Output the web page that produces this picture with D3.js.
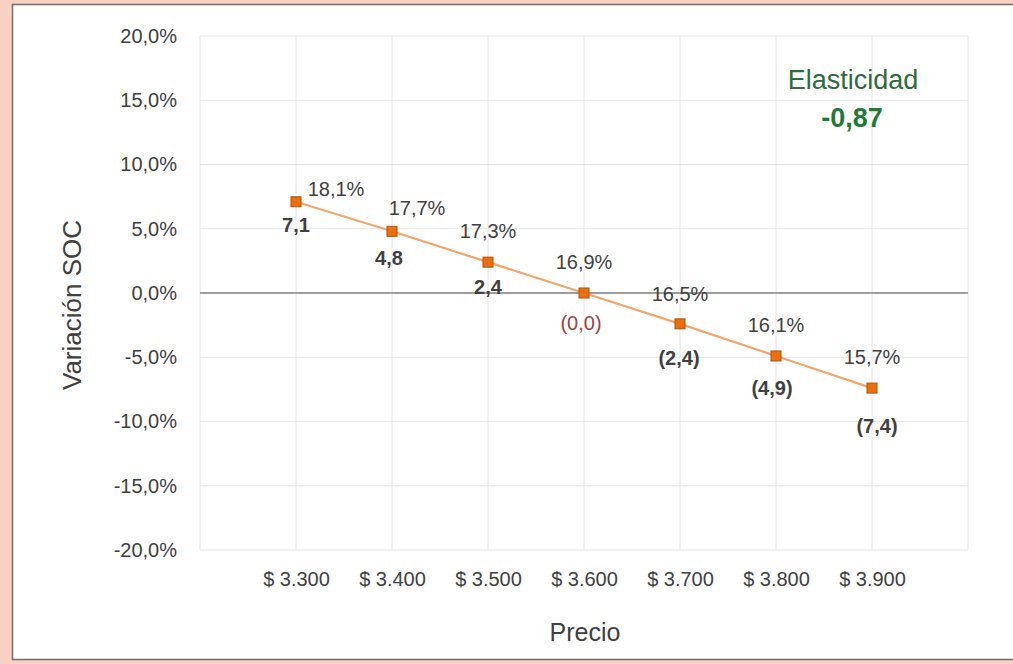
<!DOCTYPE html>
<html><head><meta charset="utf-8">
<script src="https://cdn.jsdelivr.net/npm/d3@7"></script>
<style>
html,body{margin:0;padding:0;background:#f8d0c4;}
svg{display:block;}
text{font-family:"Liberation Sans",Arial,sans-serif;}
</style></head>
<body>
<svg id="c" width="1013" height="664"></svg>
<script>
const categories = ["$ 3.300","$ 3.400","$ 3.500","$ 3.600","$ 3.700","$ 3.800","$ 3.900"];
const variacionSOC = [7.1, 4.8, 2.4, 0.0, -2.4, -4.9, -7.4];
const socLabels = ["18,1%","17,7%","17,3%","16,9%","16,5%","16,1%","15,7%"];
const varLabels = ["7,1","4,8","2,4","(0,0)","(2,4)","(4,9)","(7,4)"];
const yTicks = [-20,-15,-10,-5,0,5,10,15,20];
const elasticidadTitle = "Elasticidad";
const elasticidadValue = "-0,87";

const svg = d3.select("#c");
svg.append("rect").attr("x",0).attr("y",0).attr("width",1013).attr("height",664).attr("fill","#f8d0c4");
svg.append("rect").attr("x",12.5).attr("y",4.5).attr("width",1010).attr("height",655)
  .attr("fill","#ffffff").attr("stroke","#6f6f6f").attr("stroke-width",1.5);

const L=200, R=968, T=36, B=550;
const xs = d3.scalePoint().domain(categories).range([L,R]).padding(1);
const y = d3.scaleLinear().domain([-20,20]).range([B,T]);

const g = svg.append("g");
g.selectAll("line.hg").data(yTicks).enter().append("line")
  .attr("x1",L).attr("x2",R).attr("y1",d=>y(d)).attr("y2",d=>y(d))
  .attr("stroke","#e4e4e4").attr("stroke-width",1);
const vpos = [L].concat(categories.map(c=>xs(c))).concat([R]);
g.selectAll("line.vg").data(vpos).enter().append("line")
  .attr("x1",d=>d).attr("x2",d=>d).attr("y1",T).attr("y2",B)
  .attr("stroke","#e4e4e4").attr("stroke-width",1);

g.append("line").attr("x1",L).attr("x2",R).attr("y1",y(0)).attr("y2",y(0))
  .attr("stroke","#808080").attr("stroke-width",1.5);

const fmtPct = d => (d<0?"-":"") + d3.format(".1f")(Math.abs(d)).replace(".",",") + "%";
const yAxis = d3.axisLeft(y).tickValues(yTicks).tickSize(0).tickPadding(23).tickFormat(fmtPct);
const ya = svg.append("g").attr("transform",`translate(${L},0)`).call(yAxis);
ya.select(".domain").remove();
ya.selectAll("text").attr("font-size",20).attr("fill","#404040")
  .style("font-family","Liberation Sans, Arial, sans-serif");

const xAxis = d3.axisBottom(xs).tickSize(0).tickPadding(22);
const xa = svg.append("g").attr("transform",`translate(0,${B})`).call(xAxis);
xa.select(".domain").remove();
xa.selectAll("text").attr("font-size",20).attr("fill","#404040")
  .style("font-family","Liberation Sans, Arial, sans-serif");

svg.append("text").attr("x",585).attr("y",641).attr("text-anchor","middle")
  .attr("font-size",25).attr("fill","#404040").text("Precio");
svg.append("text").attr("transform","translate(81,305) rotate(-90)").attr("text-anchor","middle")
  .attr("font-size",26).attr("fill","#404040").text("Variación SOC");

const line = d3.line().x((d,i)=>xs(categories[i])).y(d=>y(d));
g.append("path").datum(variacionSOC).attr("d",line).attr("fill","none")
  .attr("stroke","#f2a66a").attr("stroke-width",2.2);

g.selectAll("rect.m").data(variacionSOC).enter().append("rect")
  .attr("x",(d,i)=>xs(categories[i])-5).attr("y",d=>y(d)-5)
  .attr("width",10).attr("height",10)
  .attr("fill","#e8700e").attr("stroke","#b84c08").attr("stroke-width",1);

const aboveOff = [[40,-13],[25,-23],[0,-31],[0,-31],[0,-30],[0,-31],[0,-31]];
g.selectAll("text.a").data(variacionSOC).enter().append("text")
  .attr("x",(d,i)=>xs(categories[i])+aboveOff[i][0])
  .attr("y",(d,i)=>y(d)+aboveOff[i][1])
  .attr("dy","0.35em").attr("text-anchor","middle")
  .attr("font-size",20).attr("fill","#404040")
  .text((d,i)=>socLabels[i]);

const belowOff = [[0,23],[-3,27],[0,25],[-3,30],[-1,34],[-4,32],[5,38]];
g.selectAll("text.b").data(variacionSOC).enter().append("text")
  .attr("x",(d,i)=>xs(categories[i])+belowOff[i][0])
  .attr("y",(d,i)=>y(d)+belowOff[i][1])
  .attr("dy","0.35em").attr("text-anchor","middle")
  .attr("font-size",20).attr("font-weight",(d,i)=>i===3?"normal":"bold")
  .attr("fill",(d,i)=>i===3?"#a0413a":"#404040")
  .text((d,i)=>varLabels[i]);

svg.append("text").attr("x",853).attr("y",80).attr("dy","0.35em").attr("text-anchor","middle")
  .attr("font-size",27).attr("fill","#2f6b3c").text(elasticidadTitle);
svg.append("text").attr("x",852).attr("y",118).attr("dy","0.35em").attr("text-anchor","middle")
  .attr("font-size",27).attr("font-weight","bold").attr("fill","#1f7a34").text(elasticidadValue);
</script>
</body></html>
